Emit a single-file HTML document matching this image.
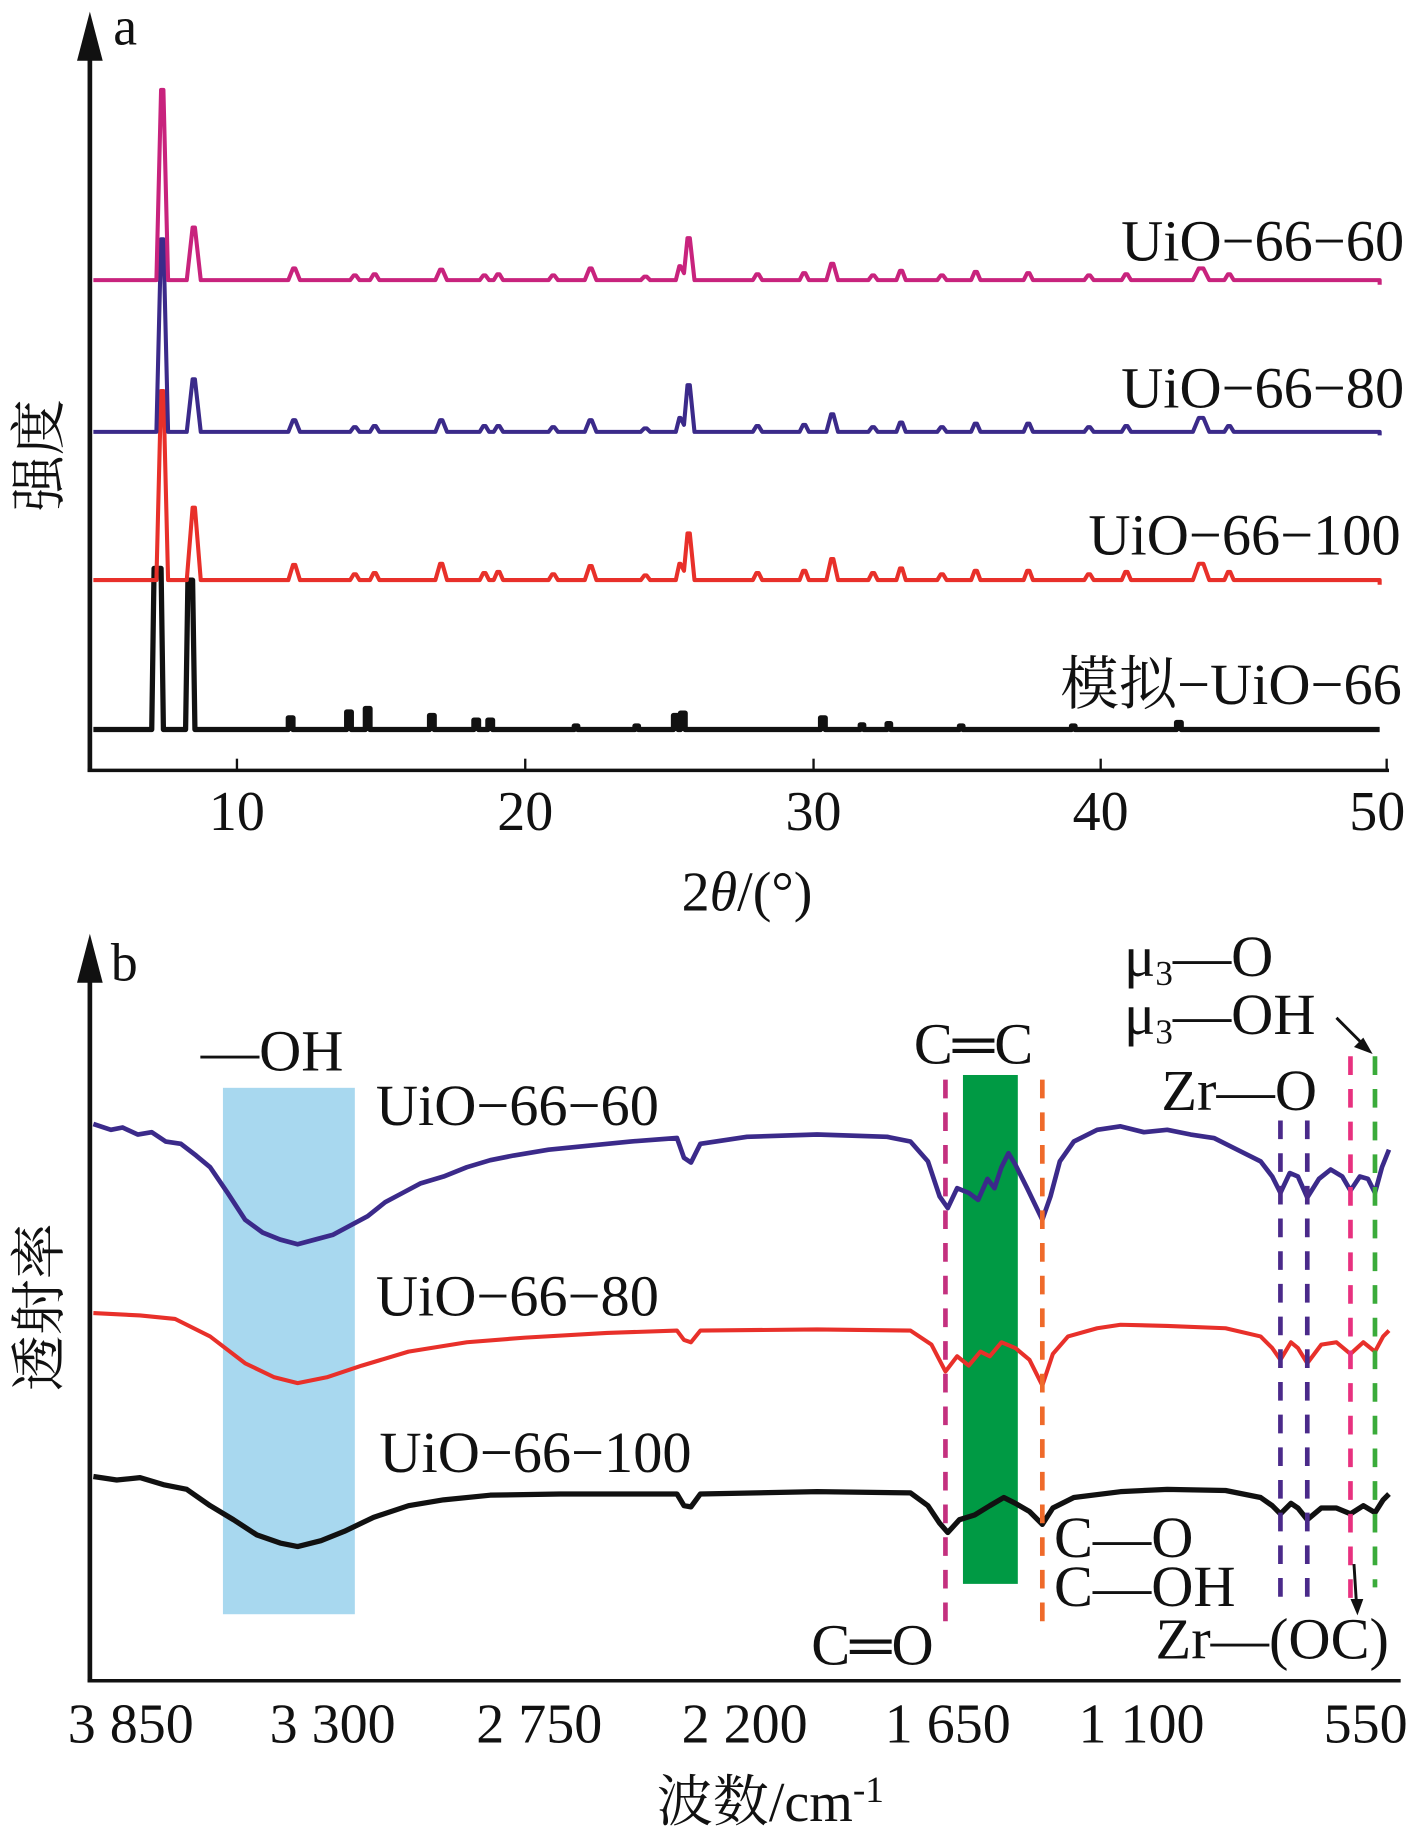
<!DOCTYPE html>
<html><head><meta charset="utf-8"><style>
html,body{margin:0;padding:0;background:#fff;}
svg{display:block;}
text{font-family:"Liberation Serif","Noto Serif CJK SC",serif;fill:#111;}
</style></head><body>
<svg width="1417" height="1843" viewBox="0 0 1214 1579" preserveAspectRatio="none" xmlns="http://www.w3.org/2000/svg">
<line x1="77" y1="40" x2="77" y2="661" stroke="#111" stroke-width="4"/>
<polygon points="77,10 66,52 88,52" fill="#111"/>
<line x1="75" y1="660" x2="1190" y2="660" stroke="#111" stroke-width="3"/>
<g stroke="#111" stroke-width="2">
<line x1="203" y1="660" x2="203" y2="650"/><line x1="450" y1="660" x2="450" y2="650"/><line x1="697" y1="660" x2="697" y2="650"/><line x1="943" y1="660" x2="943" y2="650"/><line x1="1188" y1="660" x2="1188" y2="650"/>
</g>
<g font-size="48" text-anchor="middle">
<text x="203" y="711">10</text><text x="450" y="711">20</text><text x="697" y="711">30</text><text x="943" y="711">40</text><text x="1180" y="711">50</text>
<text x="640" y="780">2<tspan font-style="italic">θ</tspan>/(°)</text>
</g>
<text x="97" y="38" font-size="46">a</text>
<text transform="translate(50,390) rotate(-90)" font-size="48" text-anchor="middle">强度</text>
<g font-size="50" text-anchor="end">
<text x="1203" y="223">UiO−66−60</text>
<text x="1203" y="349">UiO−66−80</text>
<text x="1200" y="475">UiO−66−100</text>
<text x="1201" y="603">模拟−UiO−66</text>
</g>
<g fill="none" stroke-linejoin="round">
<path stroke="#111" stroke-width="4.5" d="M80,625 H130 l2,-138 h6 l2,138 H159 l2,-128 h4 l2,128 H247 v-10 h4 v10 H297 v-15 h4 v15 H313 v-18 h4 v18 H368 v-12 h4 v12 H406 v-8 h4 v8 H418 v-8 h4 v8 H492 v-3 h3 v3 H544 v-3 h3 v3 H577 v-12 h4 v12 h2 v-14 h4 v14 H703 v-10 h4 v10 H737 v-4 h3 v4 H760 v-5 h3 v5 H822 v-3 h3 v3 H918 v-3 h3 v3 H1008 v-6 h4 v6 H1182"/>
<path stroke="#e8302a" stroke-width="3.5" d="M80,497 H134 l4,-162 h2 l4,162 H160 l5,-62 h2 l5,62 H247 l4,-13 h2 l4,13 H300 l3,-5 h2 l3,5 H317 l3,-6 h2 l3,6 H373 l4,-14 h2 l4,14 H411 l3,-6 h2 l3,6 H423 l3,-7 h2 l3,7 H470 l3,-5 h2 l3,5 H501 l4,-12 h2 l4,12 H549 l3,-4 h2 l3,4 H579 l3,-14 h1 l3,6 l3,-32 h2 l4,40 H645 l3,-6 h2 l3,6 H685 l3,-8 h2 l3,8 H708 l4,-18 h2 l4,18 H744 l3,-6 h2 l3,6 H768 l3,-10 h2 l3,10 H803 l3,-5 h2 l3,5 H832 l3,-8 h2 l3,8 H877 l3,-8 h2 l3,8 H929 l3,-5 h2 l3,5 H961 l3,-7 h2 l3,7 H1022 l5,-14 h4 l5,14 H1049 l3,-7 h2 l3,7 H1182 v4"/>
<path stroke="#3b2a8a" stroke-width="3.5" d="M80,370 H134 l4,-165 h2 l4,165 H160 l5,-45 h2 l5,45 H247 l4,-10 h2 l4,10 H300 l3,-4 h2 l3,4 H317 l3,-5 h2 l3,5 H373 l4,-10 h2 l4,10 H411 l3,-5 h2 l3,5 H423 l3,-5 h2 l3,5 H470 l3,-4 h2 l3,4 H501 l4,-10 h2 l4,10 H549 l3,-3 h2 l3,3 H579 l3,-12 h1 l3,6 l3,-34 h2 l4,40 H645 l3,-5 h2 l3,5 H685 l3,-6 h2 l3,6 H708 l4,-15 h2 l4,15 H744 l3,-4 h2 l3,4 H768 l3,-8 h2 l3,8 H803 l3,-4 h2 l3,4 H832 l3,-7 h2 l3,7 H877 l3,-7 h2 l3,7 H929 l3,-4 h2 l3,4 H961 l3,-5 h2 l3,5 H1022 l5,-12 h4 l5,12 H1049 l3,-5 h2 l3,5 H1182 v3"/>
<path stroke="#c8237d" stroke-width="3.5" d="M80,240 H134 l4,-163 h2 l4,163 H160 l5,-45 h2 l5,45 H247 l4,-10 h2 l4,10 H300 l3,-4 h2 l3,4 H317 l3,-5 h2 l3,5 H373 l4,-9 h2 l4,9 H411 l3,-4 h2 l3,4 H423 l3,-5 h2 l3,5 H470 l3,-4 h2 l3,4 H501 l4,-10 h2 l4,10 H549 l3,-3 h2 l3,3 H579 l3,-12 h1 l3,6 l3,-30 h2 l4,36 H645 l3,-5 h2 l3,5 H685 l3,-6 h2 l3,6 H708 l4,-14 h2 l4,14 H744 l3,-4 h2 l3,4 H768 l3,-8 h2 l3,8 H803 l3,-4 h2 l3,4 H832 l3,-7 h2 l3,7 H877 l3,-6 h2 l3,6 H929 l3,-4 h2 l3,4 H961 l3,-5 h2 l3,5 H1022 l5,-10 h4 l5,10 H1049 l3,-5 h2 l3,5 H1182 v4"/>
</g>

<rect x="191" y="932" width="113" height="451" fill="#a8d8ef"/>
<rect x="825" y="921" width="47" height="436" fill="#009a44"/>
<g fill="none" stroke-linejoin="round" stroke-width="3.5">
<polyline stroke="#3b2a8a" stroke-width="4" points="80,963 95,968 105,966 118,972 130,970 142,978 155,980 168,990 180,1000 195,1022 210,1045 225,1056 240,1062 255,1066 270,1062 285,1058 300,1050 315,1042 330,1030 345,1022 360,1014 380,1008 400,1000 420,994 440,990 470,985 500,982 540,978 580,975 586,992 592,996 600,980 640,974 700,972 760,974 780,978 795,995 805,1025 812,1035 820,1018 830,1022 838,1028 846,1010 852,1018 858,1000 864,988 870,998 880,1018 893,1045 900,1025 908,995 920,978 940,968 960,965 980,970 1000,968 1020,972 1040,975 1060,985 1080,995 1090,1008 1097,1022 1105,1005 1112,1008 1120,1026 1130,1010 1140,1002 1150,1008 1157,1020 1165,1008 1172,1010 1178,1022 1184,1000 1190,985"/>
<polyline stroke="#e8302a" points="80,1125 120,1127 150,1130 180,1145 210,1168 235,1180 255,1185 280,1180 310,1170 350,1158 400,1150 450,1146 520,1142 580,1140 586,1148 592,1150 600,1140 700,1139 780,1140 798,1152 810,1175 820,1162 830,1170 840,1158 848,1162 858,1150 870,1155 882,1165 893,1187 902,1160 915,1145 940,1138 960,1135 1000,1136 1050,1138 1080,1145 1090,1155 1097,1165 1106,1150 1112,1155 1120,1168 1132,1152 1145,1150 1157,1160 1168,1150 1178,1158 1185,1145 1190,1140"/>
<polyline stroke="#111" stroke-width="4.5" points="80,1265 100,1268 120,1266 140,1272 160,1276 180,1290 200,1302 220,1315 240,1322 255,1325 275,1320 295,1312 320,1300 350,1290 380,1285 420,1281 480,1280 580,1280 586,1290 592,1291 600,1280 700,1278 780,1279 795,1290 805,1305 812,1313 822,1302 835,1298 848,1290 860,1283 870,1288 882,1295 893,1306 902,1292 920,1283 960,1278 1000,1276 1050,1277 1080,1283 1090,1290 1097,1297 1106,1288 1112,1292 1120,1302 1132,1292 1145,1292 1157,1297 1168,1290 1178,1296 1185,1285 1190,1280"/>
</g>
<g stroke-width="4" stroke-dasharray="16,12">
<line x1="810" y1="925" x2="810" y2="1390" stroke="#c4307f"/>
<line x1="893" y1="925" x2="893" y2="1390" stroke="#ef6a2a"/>
<line x1="1097" y1="960" x2="1097" y2="1375" stroke="#4a2a8a"/>
<line x1="1120" y1="960" x2="1120" y2="1375" stroke="#4a2a8a"/>
<line x1="1157" y1="905" x2="1157" y2="1370" stroke="#e8317f"/>
<line x1="1178" y1="905" x2="1178" y2="1360" stroke="#3aab3a"/>
</g>
<line x1="77" y1="830" x2="77" y2="1441" stroke="#111" stroke-width="4"/>
<polygon points="77,800 66,842 88,842" fill="#111"/>
<line x1="75" y1="1440" x2="1200" y2="1440" stroke="#111" stroke-width="3"/>
<g font-size="48" text-anchor="middle">
<text x="112" y="1493">3 850</text><text x="285" y="1493">3 300</text><text x="462" y="1493">2 750</text><text x="638" y="1493">2 200</text><text x="812" y="1493">1 650</text><text x="978" y="1493">1 100</text><text x="1170" y="1493">550</text>
<text x="660" y="1560">波数/cm<tspan font-size="32" dy="-16">-1</tspan></text>
</g>
<text x="95" y="840" font-size="46">b</text>
<text transform="translate(50,1120) rotate(-90)" font-size="48" text-anchor="middle">透射率</text>
<g font-size="50">
<text x="172" y="917">—OH</text>
<text x="322" y="964">UiO−66−60</text>
<text x="322" y="1127">UiO−66−80</text>
<text x="325" y="1261">UiO−66−100</text>
<text x="783" y="911">C═C</text>
<text x="995" y="951">Zr—O</text>
<text x="963" y="836">μ<tspan font-size="30" dy="8">3</tspan><tspan dy="-8">—O</tspan></text>
<text x="963" y="886">μ<tspan font-size="30" dy="8">3</tspan><tspan dy="-8">—OH</tspan></text>
<text x="903" y="1334">C—O</text>
<text x="903" y="1376">C—OH</text>
<text x="695" y="1426">C═O</text>
<text x="990" y="1421">Zr—(OC)</text>
</g>
<line x1="1145" y1="872" x2="1168" y2="895" stroke="#111" stroke-width="2.5"/>
<polygon points="1176,903 1160,897 1168,889" fill="#111"/>
<line x1="1160" y1="1340" x2="1162" y2="1372" stroke="#111" stroke-width="2.5"/>
<polygon points="1163,1384 1157,1370 1168,1370" fill="#111"/>
</svg>
</body></html>
